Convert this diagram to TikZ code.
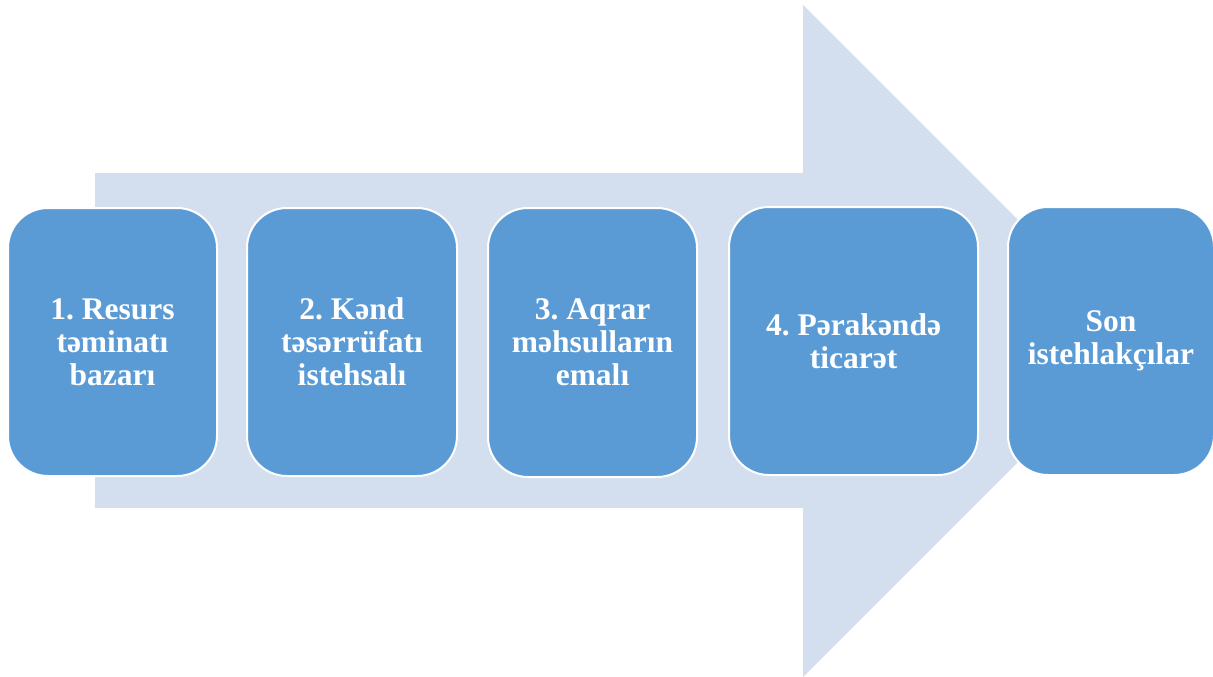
\documentclass[tikz,border=0pt]{standalone}
\usepackage{fontspec}
\setmainfont{Liberation Serif}
\frenchspacing
\definecolor{stageblue}{HTML}{5B9BD5}
\definecolor{flowblue}{HTML}{D3DEEF}

\begin{document}
\begin{tikzpicture}[x=1pt,y=-1pt,
	stage/.style={draw=white,line width=2pt,fill=stageblue,rounded corners=40pt,
		text=white,font=\bfseries\fontsize{31.5}{33}\selectfont,align=center,
		inner sep=0pt,minimum height=268pt}]
	\useasboundingbox (0,0) rectangle (1213,677);
	
	\fill[flowblue] (95,173) -- (803,173) -- (803,5) -- (1139,341)
		-- (803,677) -- (803,508) -- (95,508) -- cycle;
	
	\node[stage,minimum width=209pt] (s1) at (112.5,342) {1. Resurs\\təminatı\\bazarı};
	\node[stage,minimum width=210pt] (s2) at (352,342) {2. Kənd\\təsərrüfatı\\istehsalı};
	\node[stage,minimum width=209pt,minimum height=269pt] (s3) at (592.5,342.5) {3. Aqrar\\məhsulların\\emalı};
	\node[stage,minimum width=249pt] (s4) at (853.5,341) {4. Pərakəndə\\ticarət};
	\node[stage,minimum width=206pt] (s5) at (1111,341) {Son\\istehlakçılar};
\end{tikzpicture}
\end{document}
